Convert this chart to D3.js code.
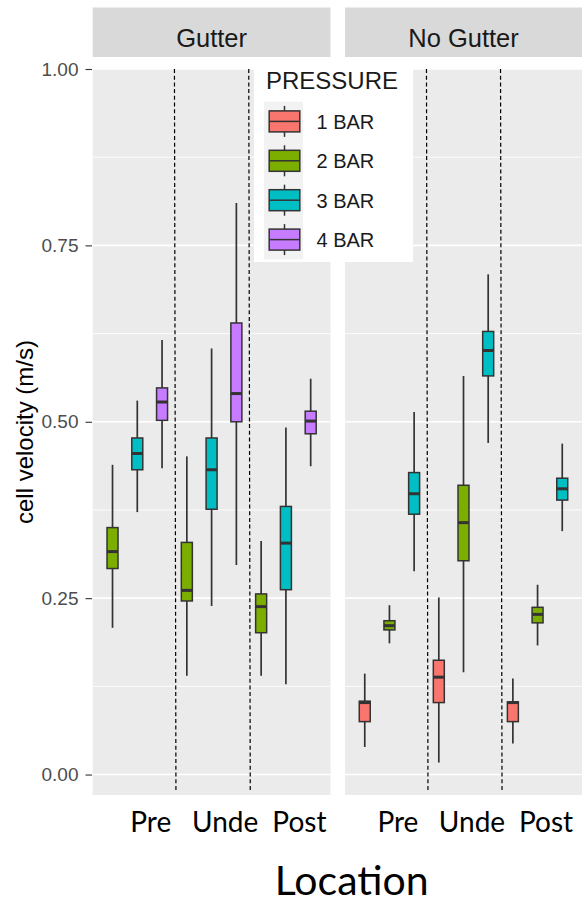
<!DOCTYPE html>
<html>
<head>
<meta charset="utf-8">
<script src="https://cdn.jsdelivr.net/npm/d3@7"></script>
<style>
  body { margin: 0; background: #fff; }
  svg text { font-family: "Liberation Sans", Arial, sans-serif; }
</style>
</head>
<body>
<div id="chart"></div>
<script>
const facets = ["Gutter", "No Gutter"];
const locations = ["Pre", "Unde", "Post"];
const pressures = ["1 BAR", "2 BAR", "3 BAR", "4 BAR"];
const pressureColors = ["#F8766D", "#7CAE00", "#00BFC4", "#C77CFF"];
const yTicks = [0, 0.25, 0.5, 0.75, 1];
const yMinor = [0.125, 0.375, 0.625, 0.875];

// location, pressure, lower whisker, q1, median, q3, upper whisker
const gutterBoxes = [
    ["Pre",  "2 BAR", 0.208, 0.292, 0.316, 0.350, 0.439],
    ["Pre",  "3 BAR", 0.372, 0.432, 0.455, 0.477, 0.530],
    ["Pre",  "4 BAR", 0.434, 0.502, 0.528, 0.548, 0.616],
    ["Unde", "2 BAR", 0.140, 0.246, 0.261, 0.329, 0.451],
    ["Unde", "3 BAR", 0.239, 0.376, 0.432, 0.477, 0.604],
    ["Unde", "4 BAR", 0.297, 0.500, 0.540, 0.640, 0.810],
    ["Post", "2 BAR", 0.140, 0.201, 0.238, 0.256, 0.331],
    ["Post", "3 BAR", 0.128, 0.262, 0.328, 0.380, 0.492],
    ["Post", "4 BAR", 0.437, 0.483, 0.501, 0.515, 0.561]
];
const noGutterBoxes = [
    ["Pre",  "1 BAR", 0.039, 0.075, 0.102, 0.104, 0.143],
    ["Pre",  "2 BAR", 0.186, 0.205, 0.211, 0.218, 0.240],
    ["Pre",  "3 BAR", 0.288, 0.369, 0.398, 0.428, 0.514],
    ["Unde", "1 BAR", 0.017, 0.102, 0.138, 0.162, 0.251],
    ["Unde", "2 BAR", 0.145, 0.303, 0.357, 0.410, 0.565],
    ["Unde", "3 BAR", 0.470, 0.565, 0.601, 0.628, 0.709],
    ["Post", "1 BAR", 0.044, 0.075, 0.102, 0.103, 0.136],
    ["Post", "2 BAR", 0.183, 0.215, 0.227, 0.237, 0.269],
    ["Post", "3 BAR", 0.345, 0.389, 0.405, 0.420, 0.469]
];
const facetBoxes = [gutterBoxes, noGutterBoxes];

const width = 584, height = 904;
const panels = [{ x0: 92.7, x1: 330.5 }, { x0: 345, x1: 582 }];
const panelTop = 69, panelBottom = 795;
const stripTop = 7.5, stripBottom = 57;
const labelShift = [13.5, 8.5];

const svg = d3.select("#chart")
    .append("svg")
    .attr("width", width)
    .attr("height", height);

const y = d3.scaleLinear()
    .domain([-0.029, 1])
    .range([panelBottom, panelTop]);

const color = d3.scaleOrdinal()
    .domain(pressures)
    .range(pressureColors);

facets.forEach((facet, fi) => {
    const p = panels[fi];
    const g = svg.append("g");

    // strip
    g.append("rect")
        .attr("x", p.x0).attr("y", stripTop)
        .attr("width", p.x1 - p.x0).attr("height", stripBottom - stripTop)
        .attr("fill", "#D9D9D9");
    g.append("text")
        .attr("x", (p.x0 + p.x1) / 2).attr("y", 46.5)
        .attr("text-anchor", "middle")
        .style("font-size", "25.5px")
        .attr("fill", "#1A1A1A")
        .text(facet);

    // panel background and grid
    g.append("rect")
        .attr("x", p.x0).attr("y", panelTop - 0.5)
        .attr("width", p.x1 - p.x0).attr("height", panelBottom - panelTop + 0.5)
        .attr("fill", "#EBEBEB");
    g.selectAll(".minor")
        .data(yMinor)
        .join("line")
        .attr("x1", p.x0).attr("x2", p.x1)
        .attr("y1", d => y(d)).attr("y2", d => y(d))
        .attr("stroke", "#fff").attr("stroke-width", 0.8);
    g.selectAll(".major")
        .data(yTicks)
        .join("line")
        .attr("x1", p.x0).attr("x2", p.x1)
        .attr("y1", d => y(d)).attr("y2", d => y(d))
        .attr("stroke", "#fff").attr("stroke-width", 1.6);

    const x = d3.scaleBand()
        .domain(locations)
        .range([p.x0, p.x1])
        .paddingInner(0)
        .paddingOuter(0.1);
    const bw = x.bandwidth();

    const boxes = facetBoxes[fi].map(r => ({
        location: r[0], pressure: r[1],
        lo: r[2], q1: r[3], med: r[4], q3: r[5], hi: r[6]
    }));
    const present = pressures.filter(pr => boxes.some(b => b.pressure === pr));
    const dodge = d3.scalePoint()
        .domain(present)
        .range([-bw / 3, bw / 3]);
    const boxW = bw * 0.148;
    const cx = d => x(d.location) + bw / 2 + dodge(d.pressure);

    // dashed separators
    g.selectAll(".sep")
        .data(locations.slice(1))
        .join("line")
        .attr("x1", d => x(d)).attr("x2", d => x(d) + 1.5)
        .attr("y1", panelTop).attr("y2", panelBottom - 3)
        .attr("stroke", "#000").attr("stroke-width", 1.2)
        .attr("stroke-dasharray", "4,2.7");

    const bg = g.selectAll(".box")
        .data(boxes)
        .join("g");
    bg.append("line")
        .attr("x1", cx).attr("x2", cx)
        .attr("y1", d => y(d.hi)).attr("y2", d => y(d.lo))
        .attr("stroke", "#333").attr("stroke-width", 1.7);
    bg.append("rect")
        .attr("x", d => cx(d) - boxW / 2)
        .attr("y", d => y(d.q3))
        .attr("width", boxW)
        .attr("height", d => y(d.q1) - y(d.q3))
        .attr("fill", d => color(d.pressure))
        .attr("stroke", "#333").attr("stroke-width", 1.5);
    bg.append("line")
        .attr("x1", d => cx(d) - boxW / 2).attr("x2", d => cx(d) + boxW / 2)
        .attr("y1", d => y(d.med)).attr("y2", d => y(d.med))
        .attr("stroke", "#333").attr("stroke-width", 3);

    // category labels (Calibri-like, added below the panel)
    g.selectAll(".xlab")
        .data(locations)
        .join("text")
        .attr("x", d => x(d) + bw / 2 + labelShift[fi])
        .attr("y", 831.5)
        .attr("text-anchor", "middle")
        .style("font-family", "Lato, 'Open Sans', sans-serif")
        .style("font-size", "28px")
        .attr("fill", "#000")
        .text(d => d);
});

// y axis
const yAxis = svg.append("g")
    .attr("transform", `translate(${panels[0].x0 - 0.7}, 0)`)
    .call(d3.axisLeft(y).tickValues(yTicks).tickFormat(d3.format(".2f")).tickSize(6.5).tickPadding(7));
yAxis.select(".domain").remove();
yAxis.selectAll(".tick line").attr("stroke", "#333").attr("stroke-width", 1.1);
yAxis.selectAll(".tick text")
    .attr("fill", "#4D4D4D")
    .style("font-size", "19px")
    .style("font-family", "'Liberation Sans', Arial, sans-serif");

svg.append("text")
    .attr("transform", `translate(33, ${(panelTop + panelBottom) / 2}) rotate(-90)`)
    .attr("text-anchor", "middle")
    .style("font-size", "24px")
    .attr("fill", "#000")
    .text("cell velocity (m/s)");

svg.append("text")
    .attr("x", 351.7).attr("y", 895)
    .attr("text-anchor", "middle")
    .style("font-family", "Lato, 'Open Sans', sans-serif")
    .style("font-size", "41px")
    .attr("fill", "#000")
    .text("Location");

// legend
const legend = svg.append("g");
legend.append("rect")
    .attr("x", 254).attr("y", 59)
    .attr("width", 159).attr("height", 203)
    .attr("fill", "#fff");
legend.append("text")
    .attr("x", 266).attr("y", 88.5)
    .style("font-size", "24px")
    .attr("fill", "#1A1A1A")
    .text("PRESSURE");
const keyH = 39.4, keyTop = 101.7;
legend.append("rect")
    .attr("x", 264).attr("y", keyTop)
    .attr("width", 39).attr("height", keyH * pressures.length)
    .attr("fill", "#F2F2F2");
const key = legend.selectAll(".key")
    .data(pressures)
    .join("g")
    .attr("transform", (d, i) => `translate(284.5, ${keyTop + keyH * (i + 0.5)})`);
key.append("line")
    .attr("y1", -15.5).attr("y2", 15.5)
    .attr("stroke", "#333").attr("stroke-width", 1.5);
key.append("rect")
    .attr("x", -15.3).attr("y", -10.5)
    .attr("width", 30.6).attr("height", 21)
    .attr("fill", d => color(d))
    .attr("stroke", "#333").attr("stroke-width", 1.5);
key.append("line")
    .attr("x1", -15.3).attr("x2", 15.3)
    .attr("stroke", "#333").attr("stroke-width", 1.5);
key.append("text")
    .attr("x", 32).attr("y", 7.3)
    .style("font-size", "20px")
    .attr("fill", "#1A1A1A")
    .text(d => d);
</script>
</body>
</html>
